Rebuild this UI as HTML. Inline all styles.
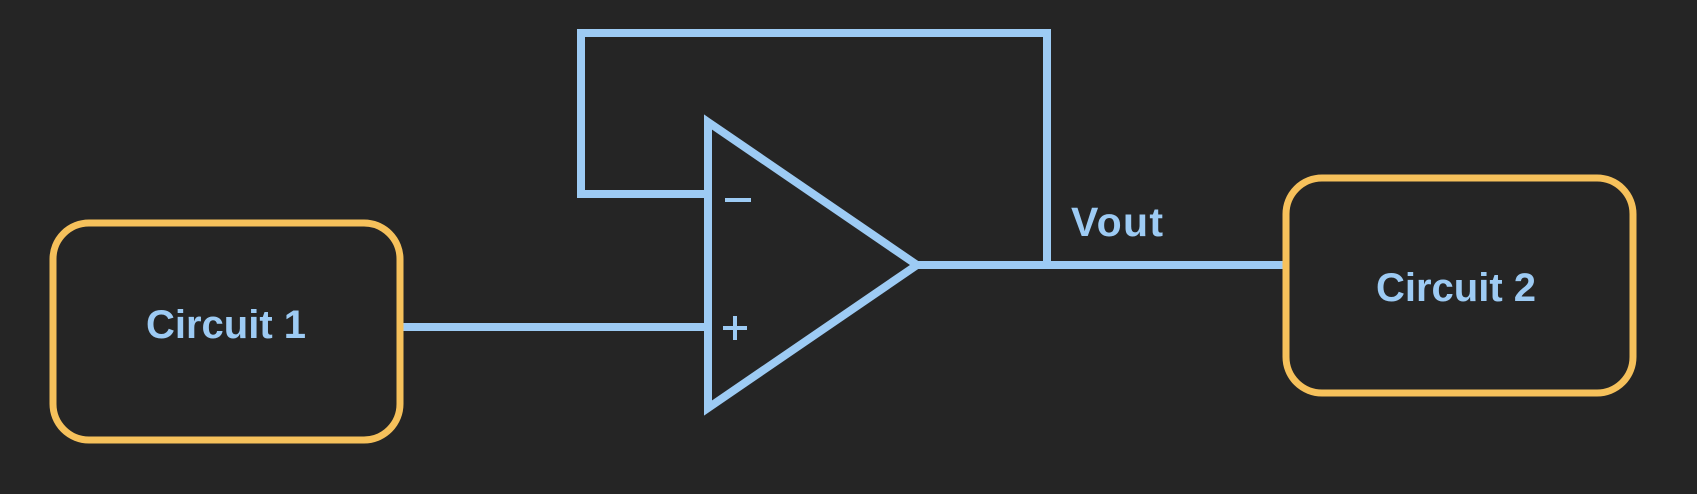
<!DOCTYPE html>
<html><head><style>
html,body{margin:0;padding:0;background:#252525;}
svg{display:block}
text{font-family:"Liberation Sans",sans-serif;font-weight:bold;fill:#9dcbf4}
</style></head><body>
<svg width="1697" height="494" viewBox="0 0 1697 494">
<rect width="1697" height="494" fill="#252525"/>
<g fill="none" stroke="#9dcbf4" stroke-width="8">
<polyline points="708,194 581,194 581,33 1047,33 1047,265"/>
<polygon points="708,122 917,265 708,408" stroke-linejoin="miter"/>
<line x1="400" y1="327" x2="708" y2="327"/>
<line x1="917" y1="265" x2="1286" y2="265"/>
<line x1="725" y1="200" x2="751" y2="200" stroke-width="4"/>
<line x1="723" y1="328" x2="747" y2="328" stroke-width="4"/>
<line x1="735" y1="316" x2="735" y2="340" stroke-width="4"/>
</g>
<g fill="none" stroke="#f6c15b" stroke-width="7">
<rect x="53" y="223" width="347" height="217" rx="36"/>
<rect x="1286" y="178" width="347" height="215" rx="36"/>
</g>
<text x="1071" y="236" font-size="41" textLength="92">Vout</text>
<text x="226" y="338" font-size="40" text-anchor="middle">Circuit 1</text>
<text x="1456" y="301" font-size="40" text-anchor="middle">Circuit 2</text>
</svg>
</body></html>
